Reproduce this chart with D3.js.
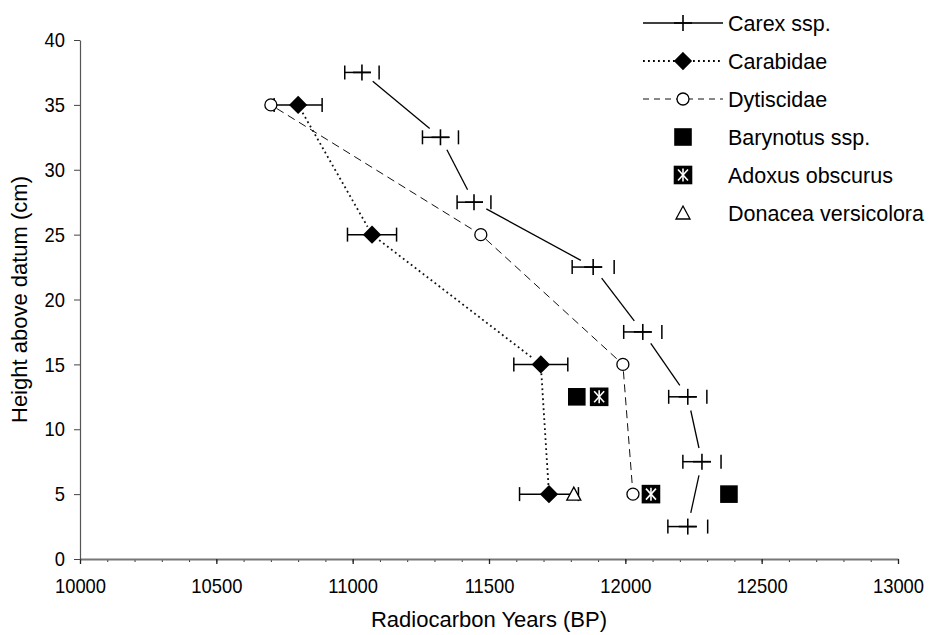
<!DOCTYPE html>
<html>
<head>
<meta charset="utf-8">
<script src="https://cdnjs.cloudflare.com/ajax/libs/d3/7.8.5/d3.min.js"></script>
<style>
  body { margin: 0; background: #fff; }
  svg { display: block; font-family: "Liberation Sans", Arial, sans-serif; }
</style>
</head>
<body>
<div id="chart"></div>
<script>
// Carex ssp. : plus markers, solid line, x error bars (years)
const carexYears  = [11034, 11322, 11445, 11882, 12064, 12229, 12281, 12229];
const carexHeight = [37.5, 32.5, 27.5, 22.5, 17.5, 12.5, 7.5, 2.5];
const carexErr    = [63, 66, 62, 77, 70, 70, 70, 73];

// Carabidae : diamonds, dotted line, x error bars
const carabYears  = [10800, 11071, 11690, 11720];
const carabHeight = [35, 25, 15, 5];
const carabErr    = [88, 90, 99, 108];

// Dytiscidae : open circles, dashed line
const dytiYears  = [10700, 11470, 11991, 12028];
const dytiHeight = [35, 25, 15, 5];

// single taxa
const barynotusYears  = [11822, 12380];
const barynotusHeight = [12.5, 5];
const adoxusYears  = [11904, 12094];
const adoxusHeight = [12.5, 5];
const donaceaYears  = [11811];
const donaceaHeight = [5];

const legendLabels = ["Carex ssp.", "Carabidae", "Dytiscidae", "Barynotus ssp.", "Adoxus obscurus", "Donacea versicolora"];
const xMajorTicks = [10000, 10500, 11000, 11500, 12000, 12500, 13000];
const yTicks = [0, 5, 10, 15, 20, 25, 30, 35, 40];

const width = 929, height = 635;
const margin = { top: 40, right: 31, bottom: 76, left: 80 };
const squeeze = 0.875;   // tick text in the original is a bit narrow

let svg = d3.select("#chart").append("svg")
  .attr("width", width)
  .attr("height", height);

let x = d3.scaleLinear().domain([10000, 13000]).range([margin.left, width - margin.right]);
let y = d3.scaleLinear().domain([0, 40]).range([height - margin.bottom, margin.top]);

// ---- axes
let xMinor = svg.append("g")
  .attr("transform", `translate(0,${y(0)})`)
  .call(d3.axisBottom(x).tickValues(d3.range(10000, 13001, 100)).tickSize(3).tickFormat(""));
xMinor.select(".domain").remove();
xMinor.selectAll("line").attr("stroke", "#333");

let xAxis = svg.append("g")
  .attr("transform", `translate(0,${y(0)})`)
  .call(d3.axisBottom(x).tickValues(xMajorTicks).tickSize(5).tickSizeOuter(0).tickPadding(14).tickFormat(d3.format("d")));
xAxis.select(".domain").attr("stroke", "#777").attr("stroke-width", 2);
xAxis.selectAll("line").attr("stroke", "#222").attr("stroke-width", 1.3);
xAxis.selectAll("text")
  .attr("font-size", 21)
  .attr("fill", "#000")
  .attr("font-family", "Liberation Sans, Arial, sans-serif")
  .attr("transform", `scale(${squeeze},1)`);

let yAxis = svg.append("g")
  .attr("transform", `translate(${x(10000)},0)`)
  .call(d3.axisLeft(y).tickValues(yTicks).tickSize(6).tickSizeOuter(0).tickPadding(9));
yAxis.select(".domain").attr("stroke", "#555").attr("stroke-width", 1.2);
yAxis.selectAll("line").attr("stroke", "#444");
yAxis.selectAll("text")
  .attr("x", 0)
  .attr("font-size", 21)
  .attr("fill", "#000")
  .attr("font-family", "Liberation Sans, Arial, sans-serif")
  .attr("transform", `translate(-15,0) scale(${squeeze},1)`);

// axis titles
svg.append("text")
  .attr("x", (x(10000) + x(13000)) / 2)
  .attr("y", 627)
  .attr("text-anchor", "middle")
  .attr("font-size", 22)
  .text("Radiocarbon Years (BP)");

svg.append("text")
  .attr("transform", `translate(27,${(y(0) + y(40)) / 2}) rotate(-90)`)
  .attr("text-anchor", "middle")
  .attr("font-size", 22)
  .text("Height above datum (cm)");

// ---- helpers
function clippedSegments(xs, ys, gap) {
  let pts = xs.map((d, i) => [x(d), y(ys[i])]);
  return d3.pairs(pts).map(([a, b]) => {
    let dx = b[0] - a[0], dy = b[1] - a[1], len = Math.hypot(dx, dy);
    let ux = dx / len, uy = dy / len;
    return [a[0] + ux * gap, a[1] + uy * gap, b[0] - ux * gap, b[1] - uy * gap];
  });
}

function drawSegments(segs, style) {
  svg.append("g")
    .selectAll("line")
    .data(segs)
    .enter()
    .append("line")
      .attr("x1", d => d[0]).attr("y1", d => d[1])
      .attr("x2", d => d[2]).attr("y2", d => d[3])
      .attr("stroke", style.color)
      .attr("stroke-width", style.width)
      .attr("stroke-dasharray", style.dash)
      .attr("stroke-linecap", style.cap || "butt");
}

function plusMarker(g, cx, cy) {
  g.append("line").attr("x1", cx - 9).attr("x2", cx + 9).attr("y1", cy).attr("y2", cy);
  g.append("line").attr("x1", cx).attr("x2", cx).attr("y1", cy - 8).attr("y2", cy + 8);
}
function diamondMarker(g, cx, cy) {
  g.append("path")
    .attr("d", `M${cx},${cy - 8}L${cx + 8},${cy}L${cx},${cy + 8}L${cx - 8},${cy}Z`)
    .attr("fill", "#000");
}
function circleMarker(g, cx, cy) {
  g.append("circle").attr("cx", cx).attr("cy", cy).attr("r", 6)
    .attr("fill", "#fff").attr("stroke", "#000").attr("stroke-width", 1.3);
}
function squareMarker(g, cx, cy) {
  g.append("rect").attr("x", cx - 8).attr("y", cy - 8).attr("width", 16).attr("height", 16).attr("fill", "#000");
}
function starSquareMarker(g, cx, cy) {
  g.append("rect").attr("x", cx - 8.5).attr("y", cy - 8.5).attr("width", 17).attr("height", 17).attr("fill", "#000");
  let s = g.append("g").attr("stroke", "#fff").attr("stroke-width", 1.6);
  s.append("line").attr("x1", cx - 5).attr("y1", cy - 5.5).attr("x2", cx + 5).attr("y2", cy + 5.5);
  s.append("line").attr("x1", cx - 5).attr("y1", cy + 5.5).attr("x2", cx + 5).attr("y2", cy - 5.5);
  s.append("line").attr("x1", cx).attr("y1", cy - 6.5).attr("x2", cx).attr("y2", cy + 6.5);
}
function triangleMarker(g, cx, cy) {
  g.append("path")
    .attr("d", `M${cx},${cy - 7}L${cx + 7},${cy + 6}L${cx - 7},${cy + 6}Z`)
    .attr("fill", "#fff").attr("stroke", "#000").attr("stroke-width", 1.3);
}

// ---- series lines
drawSegments(clippedSegments(carexYears, carexHeight, 14), { color: "#000", width: 1.3, dash: null });
drawSegments(clippedSegments(carabYears, carabHeight, 9), { color: "#111", width: 1.8, dash: "1.8,3.2" });
drawSegments(clippedSegments(dytiYears, dytiHeight, 7), { color: "#111", width: 1, dash: "8,5" });

// ---- error bars
let errG = svg.append("g").attr("stroke", "#000").attr("stroke-width", 1.5);

carexYears.forEach((d, i) => {
  let cx = x(d), cy = y(carexHeight[i]);
  let lo = x(d - carexErr[i]), hi = x(d + carexErr[i]);
  // the original leaves a gap before the right cap
  errG.append("line").attr("x1", lo).attr("x2", cx + 9).attr("y1", cy).attr("y2", cy);
  errG.append("line").attr("x1", lo).attr("x2", lo).attr("y1", cy - 7).attr("y2", cy + 7);
  errG.append("line").attr("x1", hi).attr("x2", hi).attr("y1", cy - 7).attr("y2", cy + 7);
});

carabYears.forEach((d, i) => {
  let cy = y(carabHeight[i]);
  let lo = x(d - carabErr[i]), hi = x(d + carabErr[i]);
  errG.append("line").attr("x1", lo).attr("x2", hi).attr("y1", cy).attr("y2", cy);
  errG.append("line").attr("x1", lo).attr("x2", lo).attr("y1", cy - 7).attr("y2", cy + 7);
  errG.append("line").attr("x1", hi).attr("x2", hi).attr("y1", cy - 7).attr("y2", cy + 7);
});

// ---- markers
let markG = svg.append("g").attr("stroke", "#000").attr("stroke-width", 1.6);
carexYears.forEach((d, i) => plusMarker(markG, x(d), y(carexHeight[i])));
carabYears.forEach((d, i) => diamondMarker(markG, x(d), y(carabHeight[i])));
dytiYears.forEach((d, i) => circleMarker(markG, x(d), y(dytiHeight[i])));
barynotusYears.forEach((d, i) => squareMarker(markG, x(d), y(barynotusHeight[i])));
adoxusYears.forEach((d, i) => starSquareMarker(markG, x(d), y(adoxusHeight[i])));
donaceaYears.forEach((d, i) => triangleMarker(markG, x(d), y(donaceaHeight[i])));

// ---- legend
let legend = svg.append("g").attr("transform", "translate(643,23)");
let rowH = 38;
let sampleStyles = [
  { color: "#000", width: 1.3, dash: null, marker: plusMarker },
  { color: "#000", width: 1.8, dash: "1.8,3.2", marker: diamondMarker },
  { color: "#111", width: 1, dash: "6,5", marker: circleMarker },
  { marker: squareMarker },
  { marker: starSquareMarker },
  { marker: triangleMarker }
];

legendLabels.forEach((label, i) => {
  let row = legend.append("g").attr("transform", `translate(0,${i * rowH})`);
  let st = sampleStyles[i];
  if (st.color) {
    row.append("line")
      .attr("x1", 0).attr("x2", 80).attr("y1", 0).attr("y2", 0)
      .attr("stroke", st.color)
      .attr("stroke-width", st.width)
      .attr("stroke-dasharray", st.dash);
  }
  let m = row.append("g").attr("stroke", "#000").attr("stroke-width", 1.6);
  st.marker(m, 40, 0);
  row.append("text")
    .attr("x", 85)
    .attr("y", 7.5)
    .attr("font-size", 21.5)
    .text(label);
});
</script>
</body>
</html>
